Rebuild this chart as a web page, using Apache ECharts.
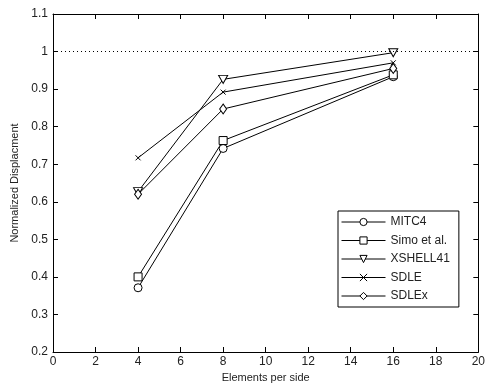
<!DOCTYPE html>
<html><head><meta charset="utf-8">
<script src="https://cdn.jsdelivr.net/npm/echarts@6/dist/echarts.min.js"></script>
<style>html,body{margin:0;padding:0;background:#fff}#c{width:488px;height:389px}</style>
</head><body><div id="c"></div>
<script>
const elements = [4, 8, 16];
const mitc4 = [0.371, 0.742, 0.933];
const simo = [0.400, 0.763, 0.938];
const xshell41 = [0.627, 0.926, 0.997];
const sdle = [0.717, 0.892, 0.970];
const sdlex = [0.620, 0.847, 0.955];
const xTicks = [0, 2, 4, 6, 8, 10, 12, 14, 16, 18, 20];
const yTicks = [0.2, 0.3, 0.4, 0.5, 0.6, 0.7, 0.8, 0.9, 1, 1.1];

const font = 'Liberation Sans, Arial, sans-serif';
const pair = arr => elements.map((x, i) => [x, arr[i]]);
const base = { type: 'line', itemStyle: { color: '#fff', borderColor: '#000', borderWidth: 1 },
  lineStyle: { color: '#000', width: 1 }, showAllSymbol: true, z: 3 };
const series = [
  Object.assign({}, base, { name: 'MITC4', data: pair(mitc4), symbol: 'circle', symbolSize: 8,
    markLine: { silent: true, symbol: 'none', label: { show: false },
      lineStyle: { color: '#000', type: [1, 3], width: 1 }, data: [{ yAxis: 1 }] } }),
  Object.assign({}, base, { name: 'Simo et al.', data: pair(simo), symbol: 'rect', symbolSize: 8 }),
  Object.assign({}, base, { name: 'XSHELL41', data: pair(xshell41), symbol: 'triangle', symbolRotate: 180, symbolSize: [9, 8] }),
  Object.assign({}, base, { name: 'SDLE', data: pair(sdle), symbol: 'path://M0,0L10,10M10,0L0,10', symbolSize: 5 }),
  Object.assign({}, base, { name: 'SDLEx', data: pair(sdlex), symbol: 'diamond', symbolSize: [7, 10] })
];
const axLine = { show: true, onZero: false, lineStyle: { color: '#000', width: 1 } };
const tick = { show: true, inside: true, length: 5, lineStyle: { color: '#000' } };
const lbl = { color: '#222', fontFamily: font, fontSize: 12 };
const chart = echarts.init(document.getElementById('c'), null, { renderer: 'canvas' });
chart.setOption({
  animation: false,
  backgroundColor: '#fff',
  grid: { left: 53, right: 4, top: 14, bottom: 37 },
  xAxis: [
    { type: 'value', min: 0, max: 20, interval: 2, position: 'bottom',
      axisLine: axLine, axisTick: tick, splitLine: { show: false },
      axisLabel: Object.assign({ margin: 4, showMaxLabel: true, formatter: v => xTicks.includes(v) ? String(v) : '' }, lbl),
      name: 'Elements per side', nameLocation: 'middle', nameGap: 18,
      nameTextStyle: { color: '#222', fontFamily: font, fontSize: 11 } },
    { type: 'value', min: 0, max: 20, interval: 2, position: 'top',
      axisLine: axLine, axisTick: tick, axisLabel: { show: false }, splitLine: { show: false } }
  ],
  yAxis: [
    { type: 'value', min: 0.2, max: 1.1, interval: 0.1, position: 'left',
      axisLine: axLine, axisTick: tick, splitLine: { show: false },
      axisLabel: Object.assign({ margin: 5, formatter: v => { const t = yTicks.find(y => Math.abs(y - v) < 1e-6); return t === undefined ? '' : String(t); } }, lbl),
      name: 'Normalized Displacment', nameLocation: 'middle', nameGap: 32, nameRotate: 90,
      nameTextStyle: { color: '#222', fontFamily: font, fontSize: 11 } },
    { type: 'value', min: 0.2, max: 1.1, interval: 0.1, position: 'right',
      axisLine: axLine, axisTick: tick, axisLabel: { show: false }, splitLine: { show: false } }
  ],
  legend: {
    orient: 'vertical', left: 338, top: 211,
    backgroundColor: '#fff', borderColor: '#000', borderWidth: 1, borderRadius: 0,
    padding: [5, 9, 5, 3], itemGap: 6.5, itemWidth: 44, itemHeight: 9,
    itemStyle: { borderWidth: 1 }, lineStyle: { width: 1 },
    textStyle: { color: '#222', fontFamily: font, fontSize: 12 },
    data: ['MITC4', 'Simo et al.', 'XSHELL41', 'SDLE', 'SDLEx']
  },
  series: series
});
</script></body></html>
